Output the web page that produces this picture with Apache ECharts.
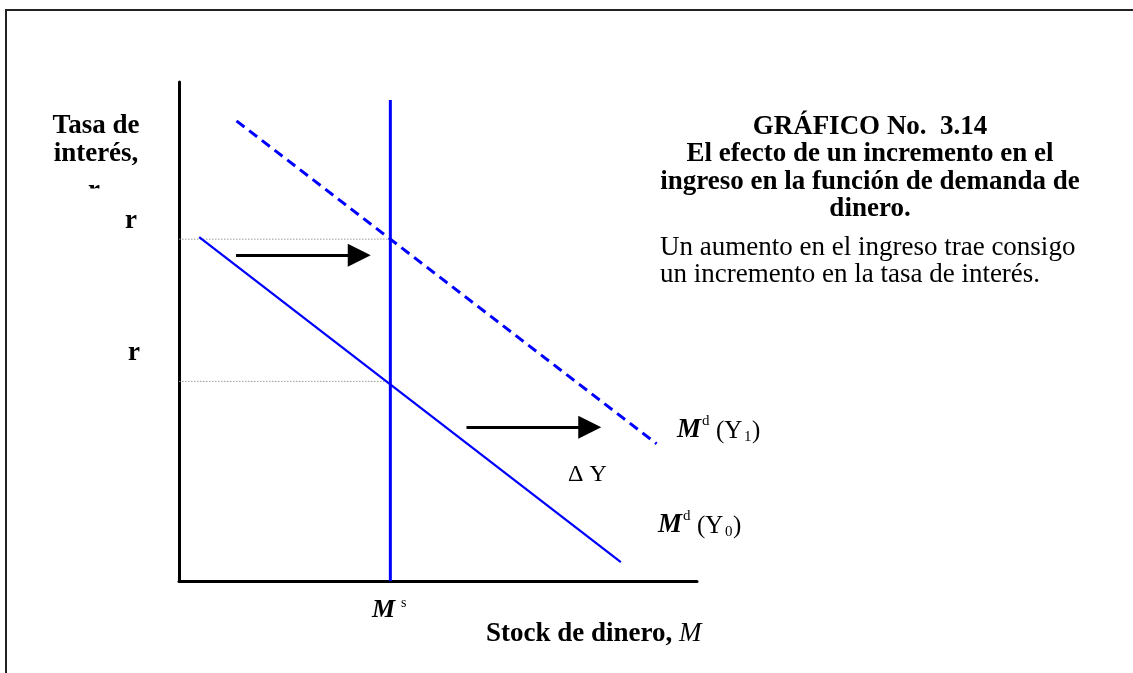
<!DOCTYPE html>
<html>
<head>
<meta charset="utf-8">
<script src="https://cdn.jsdelivr.net/npm/echarts@6/dist/echarts.min.js"></script>
<style>html,body{margin:0;padding:0;background:#fff;}#chart{width:1133px;height:673px;}</style>
</head>
<body>
<div id="chart"></div>
<script>
// ---- data (diagram units: 0..100 on both axes) ----
const axisRange = [0, 100];
const moneySupply = [[40.8, 0], [40.8, 96.4]];          // vertical M^s
const demandY0 = [[3.9, 68.9], [85.3, 3.8]];            // M^d(Y0) solid
const demandY1 = [[11.1, 92.2], [92.2, 27.5]];          // M^d(Y1) dashed
const rateLevels = [40.0, 68.5];                         // r0, r1 (dotted guides)
const shiftArrows = [
  [[11.0, 65.3], [34.8, 65.3]],
  [[55.5, 30.8], [79.3, 30.8]]
];
const yAxisTitleLines = ['Tasa de', 'interés,'];
const titleLines = ['GRÁFICO No.  3.14', 'El efecto de un incremento en el', 'ingreso en la función de demanda de', 'dinero.'];
const noteLines = ['Un aumento en el ingreso trae consigo', 'un incremento en la tasa de interés.'];

const SERIF = '"Liberation Serif", "Times New Roman", serif';
const chart = echarts.init(document.getElementById('chart'), null, {renderer: 'canvas'});

function txt(x, y, text, size, opts) {
  opts = opts || {};
  return {
    type: 'text', x: x, y: y, z: 10,
    style: {
      text: text, fill: '#000', fontFamily: SERIF, fontSize: size,
      fontWeight: opts.bold ? 'bold' : 'normal',
      fontStyle: opts.italic ? 'italic' : 'normal',
      textAlign: opts.align || 'left', textVerticalAlign: 'middle'
    }
  };
}
function mdLabel(x, y, sub) {
  return [
    txt(x, y, 'M', 27, {bold: true, italic: true}),
    txt(x + 25, y - 9, 'd', 15),
    txt(x + 39, y + 1, '(Y', 25),
    txt(x + 67, y + 7, sub, 15),
    txt(x + 75, y + 1, ')', 25)
  ];
}

const graphics = [
  {type: 'rect', z: 0, shape: {x: 6, y: 10, width: 1300, height: 900},
   style: {fill: 'none', stroke: '#222', lineWidth: 2}}
];
yAxisTitleLines.forEach(function (t, i) { graphics.push(txt(96, 126 + i * 28, t, 27, {bold: true, align: 'center'})); });
graphics.push(txt(94, 191, 'r', 27, {bold: true, align: 'center'}));
graphics.push({type: 'rect', z: 11, shape: {x: 78, y: 188.5, width: 36, height: 20}, style: {fill: '#fff'}});
graphics.push(txt(131, 221, 'r', 27, {bold: true, align: 'center'}));
graphics.push(txt(134, 353, 'r', 27, {bold: true, align: 'center'}));
titleLines.forEach(function (t, i) { graphics.push(txt(870, 127 + i * 27.3, t, 27, {bold: true, align: 'center'})); });
noteLines.forEach(function (t, i) { graphics.push(txt(660, 248 + i * 26.5, t, 27)); });
mdLabel(677, 430, '1').forEach(function (g) { graphics.push(g); });
mdLabel(658, 525, '0').forEach(function (g) { graphics.push(g); });
graphics.push(txt(568, 474.6, '\u0394 Y', 24));
graphics.push(txt(372, 610, 'M', 26, {bold: true, italic: true}));
graphics.push(txt(401, 603.5, 's', 14));
graphics.push({
  type: 'text', x: 486, y: 634, z: 10,
  style: {
    text: '{b|Stock de dinero, }{i|M}', textVerticalAlign: 'middle',
    rich: {
      b: {fontFamily: SERIF, fontSize: 27, fontWeight: 'bold', fill: '#000'},
      i: {fontFamily: SERIF, fontSize: 27, fontStyle: 'italic', fill: '#000'}
    }
  }
});

const guideSeries = rateLevels.map(function (r) {
  return {
    type: 'line', data: [[axisRange[0], r], [moneySupply[0][0], r]],
    showSymbol: false, silent: true, z: 1,
    lineStyle: {color: '#9a9a9a', width: 1, type: [1.5, 1.5]}
  };
});

const option = {
  animation: false,
  backgroundColor: '#fff',
  grid: {left: 179, top: 82, width: 518, height: 499, containLabel: false},
  xAxis: {
    type: 'value', min: axisRange[0], max: axisRange[1],
    axisLine: {show: true, onZero: false, lineStyle: {color: '#000', width: 3}},
    axisTick: {show: false}, axisLabel: {show: false}, splitLine: {show: false}
  },
  yAxis: {
    type: 'value', min: axisRange[0], max: axisRange[1],
    axisLine: {show: true, onZero: false, lineStyle: {color: '#000', width: 3}},
    axisTick: {show: false}, axisLabel: {show: false}, splitLine: {show: false}
  },
  series: guideSeries.concat([
    {type: 'line', data: demandY0, showSymbol: false, z: 3,
     lineStyle: {color: '#0000ff', width: 2.2}},
    {type: 'line', data: demandY1, showSymbol: false, z: 3,
     lineStyle: {color: '#0000ff', width: 3, type: [10, 6]}},
    {type: 'line', data: moneySupply, showSymbol: false, z: 4,
     lineStyle: {color: '#0000ff', width: 3}},
    {type: 'lines', coordinateSystem: 'cartesian2d', z: 5,
     symbol: ['none', 'triangle'], symbolSize: [22, 23],
     itemStyle: {color: '#000'},
     lineStyle: {color: '#000', width: 3, opacity: 1, curveness: 0},
     data: shiftArrows.map(function (a) { return {coords: a}; })}
  ]),
  graphic: graphics
};
chart.setOption(option);
</script>
</body>
</html>
